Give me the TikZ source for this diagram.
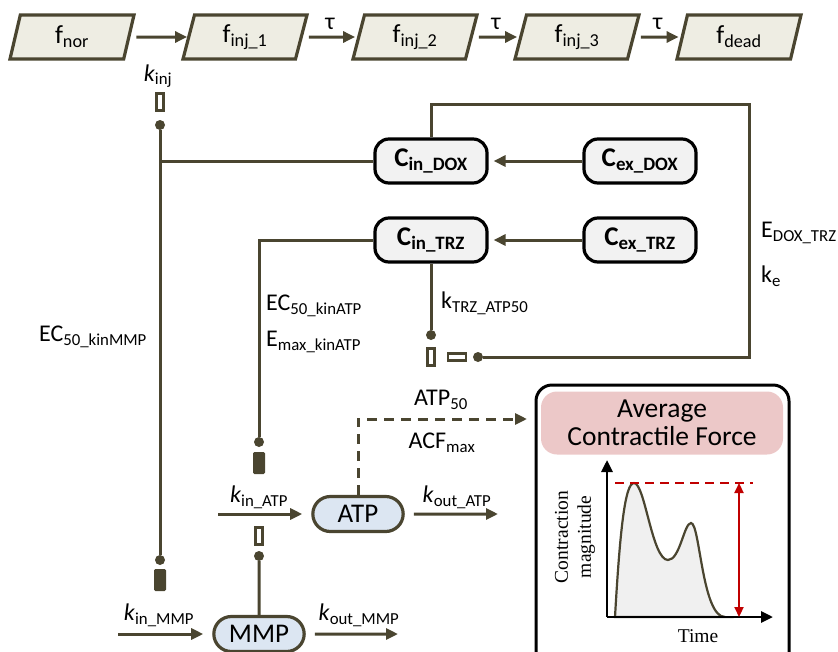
\documentclass[tikz,border=0pt]{standalone}
\usepackage{fontspec}
\setmainfont{Carlito}
\newfontfamily\timesfont{Liberation Serif}
\usetikzlibrary{arrows.meta, calc, positioning, shapes.geometric, shapes.misc}

\definecolor{olv}{HTML}{4A4530}
\definecolor{stagefill}{HTML}{EEEDE3}
\definecolor{drugfill}{HTML}{F2F2F2}
\definecolor{cellfill}{HTML}{DCE6F2}
\definecolor{titlefill}{HTML}{ECC8C8}
\definecolor{acfred}{HTML}{C00000}

\tikzset{
  stage/.style={trapezium, trapezium left angle=70, trapezium right angle=110, trapezium stretches body=true,
    draw=olv, fill=stagefill, line width=3.2pt, minimum width=124pt, minimum height=44pt, font=\fontsize{26}{30}\selectfont},
  drug/.style={rectangle, rounded corners=14pt, draw=black, fill=drugfill, line width=3.2pt,
    minimum width=112pt, minimum height=44pt, font=\fontsize{27}{30}\selectfont\bfseries},
  cell/.style={rounded rectangle, draw=olv, fill=cellfill, line width=3.2pt,
    minimum width=97pt, minimum height=35pt, font=\fontsize{27}{30}\selectfont},
  lbl/.style={font=\fontsize{24}{28}\selectfont, inner sep=1pt},
  link/.style={draw=olv, line width=3pt},
  flow/.style={link, -{Triangle[length=12pt,width=11pt]}},
  dot/.style={circle, fill=olv, minimum size=10pt, inner sep=0pt},
  openbar/.style={draw=olv, fill=white, line width=2.4pt, minimum width=7pt, minimum height=17pt, inner sep=0pt},
  shutbar/.style={draw=olv, fill=olv, line width=1pt, rounded corners=1pt, minimum width=11pt, minimum height=21pt, inner sep=0pt},
}

\begin{document}
\begin{tikzpicture}[x=1pt,y=-1pt]
    \useasboundingbox (0,0) rectangle (838,651);
    \clip (0,0) rectangle (838,651);

    % Injury states
    \node[stage] (fnor) at (72,37) {f\textsubscript{nor}};
    \node[stage] (finj1) at (245,37) {f\textsubscript{inj\_1}};
    \node[stage] (finj2) at (415,37) {f\textsubscript{inj\_2}};
    \node[stage] (finj3) at (577,37) {f\textsubscript{inj\_3}};
    \node[stage] (fdead) at (739,37) {f\textsubscript{dead}};
    \draw[flow, shorten <=6pt] (fnor) -- (finj1);
    \node[lbl] (kinj) at (158,76) {\textit{k}\textsubscript{inj}};
    \foreach \a/\b in {finj1/finj2, finj2/finj3, finj3/fdead}
        \draw[flow, shorten <=6pt, shorten >=2pt] (\a) -- (\b) node[lbl, midway, above=5pt] {τ};

    % Drug compartments
    \node[drug] (cindox) at (431,161) {C\textsubscript{in\_DOX}};
    \node[drug] (cexdox) at (640,161) {C\textsubscript{ex\_DOX}};
    \node[drug] (cintrz) at (431,240) {C\textsubscript{in\_TRZ}};
    \node[drug] (cextrz) at (640,240) {C\textsubscript{ex\_TRZ}};
    \draw[flow, shorten >=5pt] (cexdox) -- (cindox);
    \draw[flow, shorten >=5pt] (cextrz) -- (cintrz);

    % DOX effect on injury and MMP
    \node[openbar] (binj) at (160,102) {};
    \node[dot] (dinj) at (160,125) {};
    \node[dot] (dmmp) at (160,560) {};
    \node[shutbar] (bmmp) at (160,580) {};
    \draw[link] (dinj) -- (dmmp);
    \draw[link] (cindox) -- (cindox -| dinj);
    \node[lbl] (ecmmp) at (93,337) {EC\textsubscript{50\_kinMMP}};

    % DOX-TRZ interaction loop
    \coordinate (loop) at (749,104);
    \node[dot] (dke) at (478,357) {};
    \node[openbar, minimum width=18pt, minimum height=7pt] (btrzh) at (457,357) {};
    \node[openbar] (btrzv) at (431,357) {};
    \node[dot] (dtrz) at (431,335) {};
    \draw[link] (cindox.north) |- (loop) |- (dke);
    \draw[link] (cintrz) -- (dtrz);
    \node[lbl, anchor=west] (ktrz) at (440,303) {k\textsubscript{TRZ\_ATP50}};
    \node[lbl, anchor=west] (edox) at (760,233) {E\textsubscript{DOX\_TRZ}};
    \node[lbl, anchor=west] (ke) at (760,276) {k\textsubscript{e}};

    % TRZ effect on ATP
    \node[dot] (datpa) at (259,442) {};
    \node[shutbar] (batpa) at (259,463) {};
    \draw[link] (cintrz) -| (datpa);
    \node[lbl, anchor=west] (ecatp) at (265,306) {EC\textsubscript{50\_kinATP}};
    \node[lbl, anchor=west] (ematp) at (265,342) {E\textsubscript{max\_kinATP}};

    % ATP and MMP turnover
    \node[cell] (atp) at (358,514) {ATP};
    \node[cell] (mmp) at (259,634) {MMP};
    \node[openbar] (batpb) at (259,536) {};
    \node[dot] (dmmpb) at (259,556) {};
    \draw[link] (dmmpb) -- (mmp);
    \coordinate (inatp) at (218,514);
    \coordinate (outatp) at (498,514);
    \coordinate (inmmp) at (118,634);
    \coordinate (outmmp) at (398,634);
    \draw[flow, shorten >=9pt] (inatp) -- (atp);
    \draw[flow, shorten <=9pt] (atp) -- (outatp);
    \draw[flow, shorten >=9pt] (inmmp) -- (mmp);
    \draw[flow, shorten <=9pt] (mmp) -- (outmmp);
    \node[lbl] (kinatp) at (259,497) {\textit{k}\textsubscript{in\_ATP}};
    \node[lbl] (koutatp) at (457,497) {\textit{k}\textsubscript{out\_ATP}};
    \node[lbl] (kinmmp) at (159,615) {\textit{k}\textsubscript{in\_MMP}};
    \node[lbl] (koutmmp) at (359,615) {\textit{k}\textsubscript{out\_MMP}};

    % ATP to force
    \coordinate (acfin) at (527,419);
    \draw[flow, dash pattern=on 10pt off 7pt] (atp) |- (acfin);
    \node[lbl] (atp50) at (441,400) {ATP\textsubscript{50}};
    \node[lbl] (acfmax) at (442,443) {ACF\textsubscript{max}};

    % Average contractile force panel
    \node[draw=black, line width=3pt, rounded corners=16pt, minimum width=253pt, minimum height=290pt] (acf) at (662.5,530) {};
    \node[fill=titlefill, rounded corners=16pt, minimum width=242pt, minimum height=63pt, align=center,
        font=\fontsize{27.5}{28}\selectfont] (acftitle) at (662,423) {Average\\Contractile Force};
    \draw[olv, line width=2.2pt, fill=gray!12] (615,617) .. controls (620,530) and (625,483) .. (634,483)
        .. controls (645,483) and (652,560) .. (668,560)
        .. controls (680,560) and (684,523) .. (691,523)
        .. controls (700,523) and (702,617) .. (725,617) -- cycle; % twitch curve
    \coordinate (org) at (607,617);
    \draw[line width=2.8pt, -{Triangle[length=12pt,width=11pt]}] (org) -- (607,460); % y axis
    \draw[line width=2.8pt, -{Triangle[length=12pt,width=11pt]}] (org) -- (773,617); % x axis
    \draw[acfred, line width=2.2pt, dash pattern=on 9pt off 6pt] (615,483) -- (753,483);
    \draw[acfred, line width=2.2pt, {Triangle[length=10pt,width=9pt]}-{Triangle[length=10pt,width=9pt]}] (739,483) -- (739,617);
    \node[rotate=90, align=center, font=\timesfont\fontsize{19.5}{23}\selectfont] (ylab) at (575,537) {Contraction\\magnitude};
    \node[font=\timesfont\fontsize{19.5}{23}\selectfont] (xlab) at (698,636) {Time};
\end{tikzpicture}
\end{document}
